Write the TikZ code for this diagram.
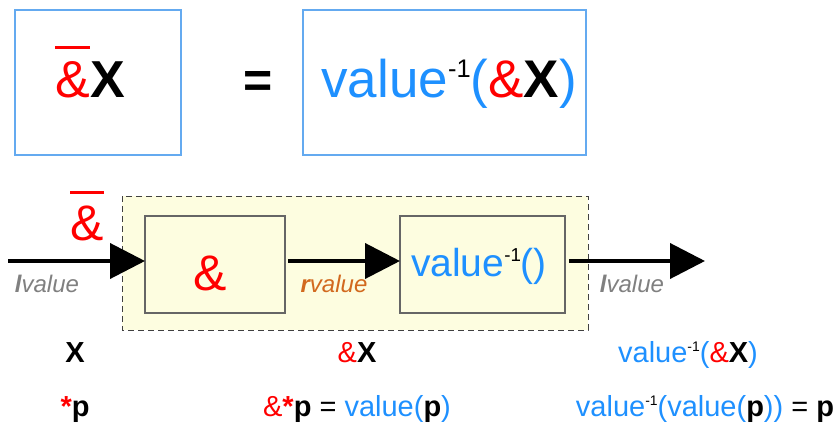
\documentclass[tikz,border=0pt]{standalone}
\usepackage{fontspec}
\setmainfont{Liberation Sans}
\usetikzlibrary{arrows.meta}
\definecolor{valblue}{RGB}{30,144,255}
\definecolor{boxblue}{RGB}{100,170,240}
\definecolor{pale}{RGB}{253,253,224}
\definecolor{rvcol}{RGB}{210,105,30}
\definecolor{lvcol}{RGB}{128,128,128}
\newcommand\baramp{\rlap{\raisebox{0.92em}{\rule{0.667em}{0.06em}}}\&}
\newcommand\inv{\raisebox{0.36em}{\scalebox{0.48}{\color{black}-1}}}
\newcommand\fsz[1]{\fontsize{#1}{#1}\selectfont}
\begin{document}
\begin{tikzpicture}[x=1pt,y=-1pt,
    eqbox/.style={draw=boxblue,line width=1.2pt,inner sep=0,outer sep=0},
    fnbox/.style={draw=black!60,fill=pale,line width=1.2pt,inner sep=0,outer sep=0},
    flow/.style={line width=4pt,-{Triangle[length=35pt,width=35pt]}},
    big/.style={font=\fsz{50},anchor=base},
    cat/.style={font=\fsz{24}\itshape,anchor=base},
    row/.style={font=\fsz{29},anchor=base}]
    \useasboundingbox (0,0) rectangle (840,423);
    % Definition: bar-& X = value^-1(&X)
    \node[eqbox,minimum width=166,minimum height=145] (lhs) at (98,82.5) {};
    \node[eqbox,minimum width=283,minimum height=145] (rhs) at (444.5,82.5) {};
    \node[big,font=\fsz{52}] (lhstext) at (90,97) {{\color{red}\baramp}\textbf{X}};
    \node[big,font=\fsz{50}\bfseries] (eq) at (258,97) {=};
    \node[big,font=\fsz{53},valblue] (rhstext) at (449,97) {value\inv({\color{red}\&}\textbf{\color{black}X})};
    % Chain of the two functions
    \draw[black!75,dashed,dash pattern=on 6pt off 4pt,fill=pale] (122,196) rectangle (588,330);
    \node[fnbox,minimum width=140,minimum height=97] (amp) at (215,264.5) {};
    \node[fnbox,minimum width=165,minimum height=97] (inv) at (482.5,264.5) {};
    \node[big,red] (amptext) at (210,290) {\&};
    \node[big,font=\fsz{39},valblue] (invtext) at (479,276) {value\inv()};
    \coordinate (in) at (8,261);
    \coordinate (out) at (705,261);
    \draw[flow] (in) -- (in -| amp.west);
    \draw[flow] ([xshift=3pt]in -| amp.east) -- (in -| inv.west);
    \draw[flow] ([xshift=4pt]in -| inv.east) -- (out);
    \node[big,red] (baramp) at (87,240) {\baramp};
    \node[cat,lvcol] (lv1) at (47,292) {\textbf{l}value};
    \node[cat,rvcol] (rv) at (334,292) {\textbf{r}value};
    \node[cat,lvcol] (lv2) at (632,292) {\textbf{l}value};
    % Examples below each stage
    \node[row] (x1) at (75,362) {\textbf{X}};
    \node[row] (x2) at (357,362) {{\color{red}\&}\textbf{X}};
    \node[row,valblue] (x3) at (688,362) {value\inv({\color{red}\&}\textbf{\color{black}X})};
    \node[row] (p1) at (75,416) {\textbf{{\color{red}*}p}};
    \node[row] (p2) at (357,416) {{\color{red}\&\textbf{*}}\textbf{p} = {\color{valblue}value(\textbf{\color{black}p})}};
    \node[row,valblue] (p3) at (705,416) {value\inv(value(\textbf{\color{black}p})) {\color{black}= \textbf{p}}};
\end{tikzpicture}
\end{document}
